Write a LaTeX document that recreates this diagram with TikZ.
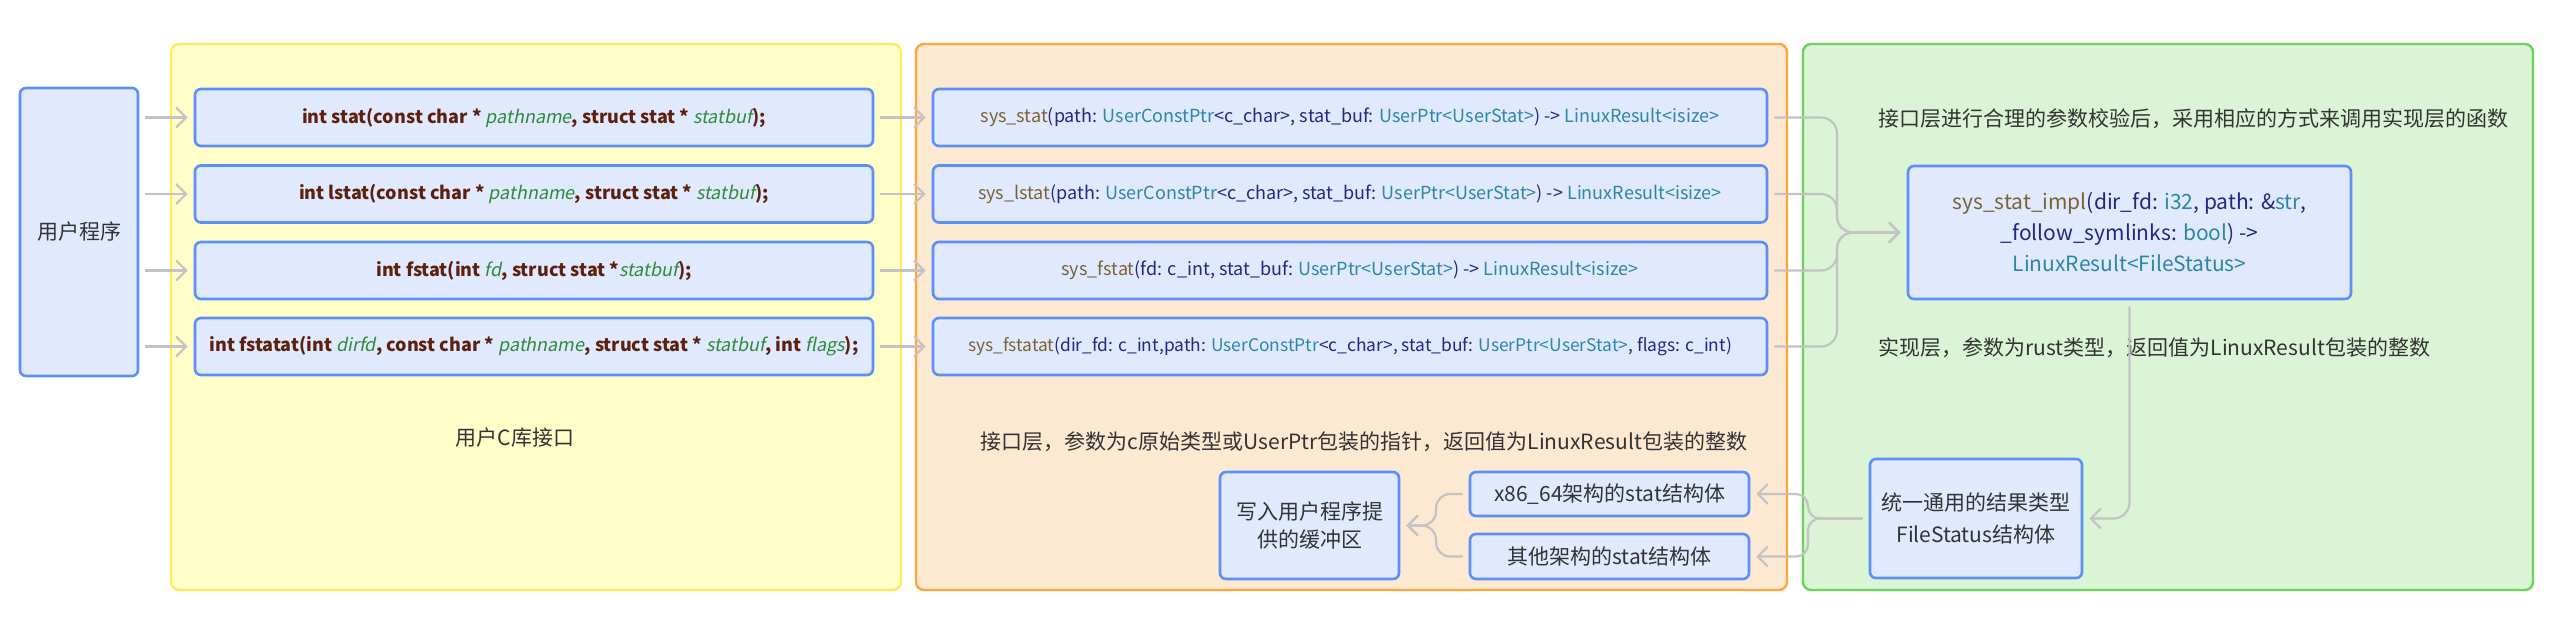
\documentclass[tikz,border=0pt]{standalone}
\usepackage{fontspec}
\setmainfont{Noto Sans CJK SC}[ItalicFont=Noto Sans CJK SC, ItalicFeatures={FakeSlant=0.2}]
\usetikzlibrary{arrows.meta}
\definecolor{boxfill}{HTML}{E0E9FD}
\definecolor{boxdraw}{HTML}{5B8FF9}
\definecolor{yfill}{HTML}{FFFDC8}
\definecolor{ydraw}{HTML}{FFEC5C}
\definecolor{ofill}{HTML}{FDE8D1}
\definecolor{odraw}{HTML}{FFA53B}
\definecolor{gfill}{HTML}{DBF4D5}
\definecolor{gdraw}{HTML}{6AD35A}
\definecolor{conncol}{HTML}{C3C3C3}
\definecolor{cbrown}{HTML}{5C200D}
\definecolor{cgreen}{HTML}{2E8B38}
\definecolor{cfnc}{HTML}{7B6331}
\definecolor{cidc}{HTML}{1F2A80}
\definecolor{ctyc}{HTML}{2E86A8}
\definecolor{txtc}{HTML}{333333}
\newcommand\cFn[1]{\textcolor{cfnc}{#1}}
\newcommand\cId[1]{\textcolor{cidc}{#1}}
\newcommand\cTy[1]{\textcolor{ctyc}{#1}}
\newcommand\cPar[1]{{\mdseries\itshape\color{cgreen}#1}}
\tikzset{
  container/.style={rounded corners=4pt, line width=1.2pt},
  fbox/.style={draw=boxdraw, fill=boxfill, line width=1.3pt, rounded corners=3pt, inner sep=0pt, align=center},
  ctext/.style={font=\fontsize{9}{11}\selectfont\bfseries, text=cbrown},
  mtext/.style={font=\fontsize{9}{11}\selectfont},
  plain/.style={font=\fontsize{10.5}{14}\selectfont, text=txtc, inner sep=0pt, align=center},
  cline/.style={draw=conncol, line width=1.1pt, -{Straight Barb[length=5pt,width=10pt]}, shorten >=3pt, shorten <=3pt}
}
\begin{document}
\begin{tikzpicture}[x=0.5pt, y=-0.5pt]
\useasboundingbox (0,0) rectangle (2560,618);
% containers
\draw[container, draw=ydraw, fill=yfill] (171,44) rectangle (901,590);
\draw[container, draw=odraw, fill=ofill] (916,44) rectangle (1787,590);
\draw[container, draw=gdraw, fill=gfill] (1803,44) rectangle (2533,590);
% user program
\node[fbox, plain, minimum width=59pt, minimum height=144pt] (U) at (79,232) {用户程序};
% C library
\node[fbox, ctext, minimum width=339pt, minimum height=28.5pt] (L1) at (534,117.5) {int stat(const char * \cPar{pathname}, struct stat * \cPar{statbuf});};
\node[fbox, ctext, minimum width=339pt, minimum height=28.5pt] (L2) at (534,194) {int lstat(const char * \cPar{pathname}, struct stat * \cPar{statbuf});};
\node[fbox, ctext, minimum width=339pt, minimum height=28.5pt] (L3) at (534,270.5) {int fstat(int \cPar{fd}, struct stat *\cPar{statbuf});};
\node[fbox, ctext, minimum width=339pt, minimum height=28.5pt] (L4) at (534,346.5) {int fstatat(int \cPar{dirfd}, const char * \cPar{pathname}, struct stat * \cPar{statbuf}, int \cPar{flags});};
\node[plain] (T1) at (515,438) {用户C库接口};
% syscall interface
\node[fbox, mtext, minimum width=417pt, minimum height=28.5pt] (M1) at (1350,117.5) {\cFn{sys\_stat}\cId{(path: }\cTy{UserConstPtr}\cId{<c\_char>, stat\_buf: }\cTy{UserPtr<UserStat>}\cId{) -> }\cTy{LinuxResult<isize>}};
\node[fbox, mtext, minimum width=417pt, minimum height=28.5pt] (M2) at (1350,194) {\cFn{sys\_lstat}\cId{(path: }\cTy{UserConstPtr}\cId{<c\_char>, stat\_buf: }\cTy{UserPtr<UserStat>}\cId{) -> }\cTy{LinuxResult<isize>}};
\node[fbox, mtext, minimum width=417pt, minimum height=28.5pt] (M3) at (1350,270.5) {\cFn{sys\_fstat}\cId{(fd: c\_int, stat\_buf: }\cTy{UserPtr<UserStat>}\cId{) -> }\cTy{LinuxResult<isize>}};
\node[fbox, mtext, font=\fontsize{8.7}{11}\selectfont, minimum width=417pt, minimum height=28.5pt] (M4) at (1350,346.5) {\cFn{sys\_fstatat}\cId{(dir\_fd: c\_int,path: }\cTy{UserConstPtr}\cId{<c\_char>, stat\_buf: }\cTy{UserPtr<UserStat>}\cId{, flags: c\_int)}};
\node[plain] (T2) at (1364,442) {接口层，参数为c原始类型或UserPtr包装的指针，返回值为LinuxResult包装的整数};
\node[fbox, plain, minimum width=89.5pt, minimum height=53.5pt] (W) at (1309.5,525.5) {写入用户程序提\\供的缓冲区};
\node[fbox, plain, minimum width=139.5pt, minimum height=22pt] (X) at (1609.5,494) {x86\_64架构的stat结构体};
\node[fbox, plain, minimum width=139.5pt, minimum height=22.5pt] (O) at (1609.5,556.5) {其他架构的stat结构体};
% implementation
\node[plain, anchor=west] (T3) at (1878,119) {接口层进行合理的参数校验后，采用相应的方式来调用实现层的函数};
\node[fbox, font=\fontsize{10.5}{15.5}\selectfont, minimum width=221.5pt, minimum height=66.5pt] (I) at (2129.5,232.5) {\cFn{sys\_stat\_impl}\cId{(dir\_fd: }\cTy{i32}\cId{, path: \&}\cTy{str}\cId{,}\\\cId{\_follow\_symlinks: }\cTy{bool}\cId{) ->}\\\cTy{LinuxResult<FileStatus>}};
\node[plain, anchor=west] (T4) at (1878,348) {实现层，参数为rust类型，返回值为LinuxResult包装的整数};
\node[fbox, plain, font=\fontsize{10.5}{16}\selectfont, minimum width=106pt, minimum height=59.5pt] (FS) at (1976,518.5) {统一通用的结果类型\\FileStatus结构体};
% connectors
\coordinate (bx) at (1837,232.5);
\coordinate (fb) at (1808,518.5);
\coordinate (wb) at (1436,525.5);
\foreach \i in {1,2,3,4}{
  \draw[cline] (U.east |- L\i.west) -- (L\i.west);
  \draw[cline] (L\i.east) -- (M\i.west);
  \draw[cline, rounded corners=8pt] (M\i.east) -- (M\i.east -| bx) -- (bx) -- (I.west);
}
\draw[cline, rounded corners=8pt] (I.south) -- (I.south |- FS.east) -- (FS.east);
\draw[cline, rounded corners=6pt] (FS.west) -- (fb) -- (fb |- X.east) -- (X.east);
\draw[cline, rounded corners=6pt] (FS.west) -- (fb) -- (fb |- O.east) -- (O.east);
\draw[cline, rounded corners=7pt] (X.west) -- (X.west -| wb) -- (wb) -- (W.east);
\draw[cline, rounded corners=7pt] (O.west) -- (O.west -| wb) -- (wb) -- (W.east);
\end{tikzpicture}
\end{document}
